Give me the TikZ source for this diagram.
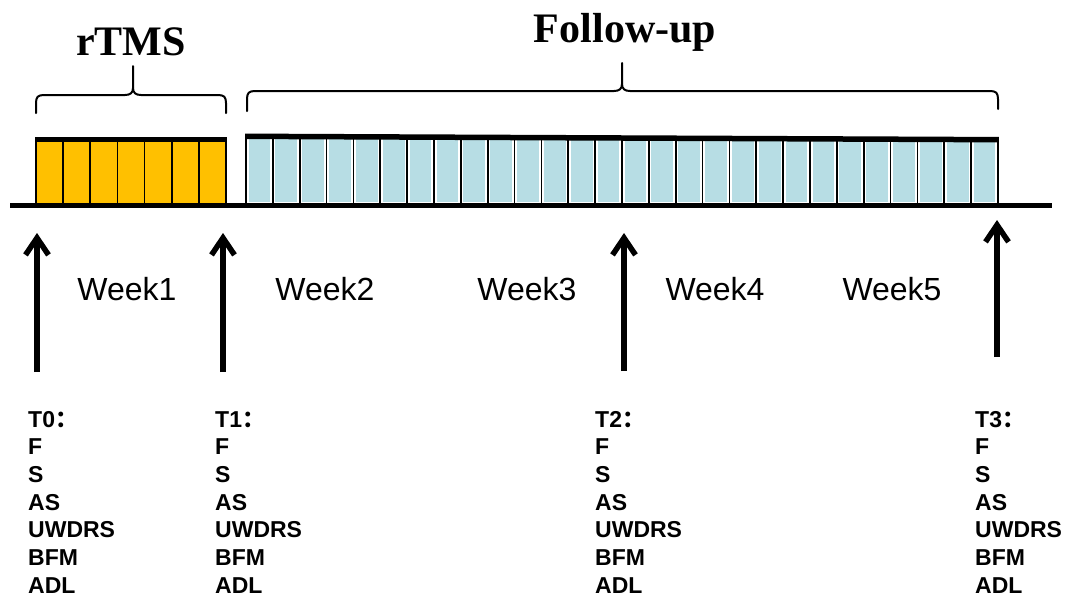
\documentclass[tikz,border=0pt]{standalone}
\usepackage{fontspec}
\setmainfont{Liberation Serif}
\setsansfont{Liberation Sans}
\newfontfamily\cjk{Noto Sans CJK SC}
\usetikzlibrary{arrows.meta}
\definecolor{gold}{RGB}{255,192,0}
\definecolor{lblue}{RGB}{183,221,228}
\begin{document}
\begin{tikzpicture}[x=1pt,y=-1pt,
  ttl/.style={font=\fontsize{42}{42}\selectfont\bfseries, anchor=base, inner sep=0pt},
  wk/.style={font=\sffamily\fontsize{32}{32}\selectfont, anchor=base, inner sep=0pt},
  meas/.style={font=\sffamily\bfseries\fontsize{23}{27}\selectfont, anchor=base west, inner sep=0pt},
  arr/.style={line width=5.5pt, -{Straight Barb[length=17pt,width=23pt]}},
  brc/.style={line width=2pt, line join=round, line cap=round},
  divl/.style={line width=1.8pt},
  ]
\useasboundingbox (0,0) rectangle (1084,600);

% rTMS block
\fill[gold] (36,139.7) rectangle (226,205);
\foreach \i in {0,...,7} \draw[divl] ({36+\i*27.1429},139.7) -- ({36+\i*27.1429},205);
\draw[line width=5.5pt] (35.1,139.7) -- (226.9,139.7);

% Follow-up block
\foreach \i in {0,...,27}
  \fill[lblue] ({246+\i*26.857+2.6},139) rectangle ({246+(\i+1)*26.857-2.6},202.2);
\foreach \i in {0,...,28} \draw[divl] ({246+\i*26.857},137) -- ({246+\i*26.857},205);
\draw[line width=5.5pt] (245.1,136.3) -- (998.9,139.7);

% baseline
\draw[line width=5pt] (10,205) -- (1052,205);

% braces
\draw[brc] (36,113) -- (36,103) .. controls (36,97) and (38,95) .. (44,95) -- (125,95)
  .. controls (130,95) and (133,93) .. (133,88) -- (133,66);
\draw[brc] (133,88) .. controls (133,93) and (136,95) .. (141,95) -- (218,95)
  .. controls (224,95) and (226,97) .. (226,103) -- (226,113);
\draw[brc] (247,111) -- (247,99) .. controls (247,93) and (249,91) .. (255,91) -- (614,91)
  .. controls (619,91) and (622,89) .. (622,84) -- (622,63);
\draw[brc] (622,84) .. controls (622,89) and (625,91) .. (630,91) -- (990,91)
  .. controls (996,91) and (998,93) .. (998,99) -- (998,109);

% titles
\node[ttl] (rtms) at (131,55) {rTMS};
\node[ttl] (fu) at (625,42) {Follow-up};

% arrows
\coordinate (p0) at (37,372); \coordinate (q0) at (37,233);
\coordinate (p1) at (223,372); \coordinate (q1) at (223,233);
\coordinate (p2) at (624,371); \coordinate (q2) at (624,233);
\coordinate (p3) at (997,357); \coordinate (q3) at (997,220);
\foreach \k in {0,1,2,3} \draw[arr] (p\k) -- (q\k);

% week labels
\node[wk] (w1) at (127,300) {Week1};
\node[wk] (w2) at (325,300) {Week2};
\node[wk] (w3) at (527,300) {Week3};
\node[wk] (w4) at (715,300) {Week4};
\node[wk] (w5) at (892,300) {Week5};

% measurement lists
\foreach \c/\x/\lab in {0/28/T0,1/215/T1,2/595/T2,3/975/T3} {
  \node[meas] (h\c) at (\x,427) {\lab\cjk{：}};
  \foreach \t [count=\i] in {F,S,AS,UWDRS,BFM,ADL}
    \node[meas] (m\c-\i) at (\x,{427+27.7*\i}) {\t};
}
\end{tikzpicture}
\end{document}
